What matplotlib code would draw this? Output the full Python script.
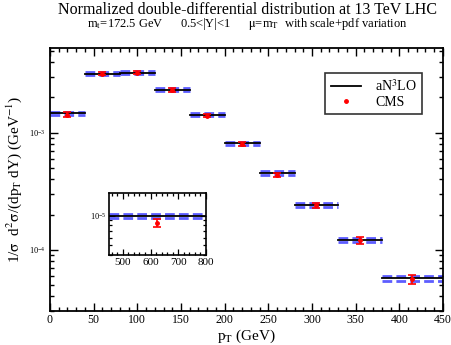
import matplotlib
matplotlib.use("Agg")
import matplotlib.pyplot as plt
from matplotlib.lines import Line2D
from matplotlib.ticker import LogLocator, MultipleLocator, NullFormatter, LogFormatterMathtext
import numpy as np

plt.rcParams['font.family'] = ['Liberation Serif', 'DejaVu Serif']
plt.rcParams['mathtext.fontset'] = 'stix'

# bin edges (GeV)
bin_lo = [0, 40, 80, 120, 160, 200, 240, 280, 330, 380]
bin_hi = [40, 80, 120, 160, 200, 240, 280, 330, 380, 450]
# aN3LO central values
theory = [1.46e-3, 3.19e-3, 3.25e-3, 2.33e-3, 1.42e-3, 8.1e-4, 4.52e-4, 2.42e-4, 1.22e-4, 5.73e-5]
# relative scale+pdf band half-width
band = [0.03, 0.03, 0.03, 0.03, 0.03, 0.03, 0.035, 0.035, 0.04, 0.05]
# CMS data
cms_x = [20, 60, 100, 140, 180, 220, 260, 305, 355, 415]
cms_y = [1.43e-3, 3.19e-3, 3.27e-3, 2.30e-3, 1.40e-3, 8.05e-4, 4.38e-4, 2.39e-4, 1.21e-4, 5.6e-5]
cms_err = [0.05, 0.03, 0.03, 0.04, 0.03, 0.04, 0.04, 0.05, 0.07, 0.095]

# inset (high pT bin)
in_lo, in_hi = 450, 800
in_theory = 1.0e-5
in_band = 0.05
in_cms_x = 625
in_cms_y = 8.5e-6
in_cms_err = 0.085

blue = '#4040ff'

fig = plt.figure(figsize=(4.52, 3.45), dpi=100)
ax = fig.add_axes([0.1106, 0.0986, 0.8694, 0.7624])

def draw_bins(a, lo, hi, th, bd):
    for l, h, t, b in zip(lo, hi, th, bd):
        a.plot([l, h], [t * (1 + b), t * (1 + b)], color=blue, lw=2.0, ls=(0, (3.5, 1.5)), alpha=0.85, zorder=2)
        a.plot([l, h], [t * (1 - b), t * (1 - b)], color=blue, lw=2.0, ls=(0, (3.5, 1.5)), alpha=0.85, zorder=2)
        a.plot([l, h], [t, t], color='black', lw=1.3, zorder=3)

draw_bins(ax, bin_lo, bin_hi, theory, band)
cy = np.array(cms_y)
ce = cy * np.array(cms_err)
ax.errorbar(cms_x, cy, yerr=ce, fmt='o', ms=2.5, color='red', ecolor='red',
            elinewidth=1.2, capsize=3, capthick=1.2, zorder=4)

ax.set_yscale('log')
ax.set_xlim(0, 450)
ax.set_ylim(3.0e-5, 5.3e-3)
ax.xaxis.set_major_locator(MultipleLocator(50))
ax.xaxis.set_minor_locator(MultipleLocator(10))
ax.yaxis.set_major_locator(LogLocator(base=10))
ax.yaxis.set_minor_locator(LogLocator(base=10, subs=np.arange(2, 10)))
ax.yaxis.set_minor_formatter(NullFormatter())
ax.yaxis.set_major_formatter(LogFormatterMathtext())
ax.tick_params(which='both', direction='in', top=True, right=True, width=1.0)
ax.tick_params(which='major', length=6)
ax.tick_params(which='minor', length=3)
ax.tick_params(axis='x', labelsize=8.5, pad=2.5)
ax.tick_params(axis='y', labelsize=6, pad=3)
for s in ax.spines.values():
    s.set_linewidth(1.3)

ax.set_xlabel(r'p$_{\mathrm{T}}$ (GeV)', fontsize=11)
ax.xaxis.set_label_coords(0.5, -0.062)
ax.set_ylabel(r'1/$\mathrm{\sigma}$  d$^2\mathrm{\sigma}$/(dp$_{\mathrm{T}}$ dY) (GeV$^{-1}$)', fontsize=11, labelpad=4)

fig.text(0.548, 0.972, 'Normalized double-differential distribution at 13 TeV LHC',
         ha='center', va='center', fontsize=11.5)
fig.text(0.548, 0.930,
         r'm$_{\mathrm{t}}$=172.5 GeV      0.5<|Y|<1      $\mathrm{\mu}$=m$_{\mathrm{T}}$  with scale+pdf variation',
         ha='center', va='center', fontsize=9)

handles = [Line2D([], [], color='black', lw=1.3),
           Line2D([], [], color='red', marker='o', ms=2.5, ls='none')]
leg = ax.legend(handles, [r'aN$^3$LO', 'CMS'], loc='upper left',
                bbox_to_anchor=((325 - 50) / 393, 1 - (73 - 48) / 263),
                fontsize=10, frameon=True, fancybox=False, borderaxespad=0,
                handlelength=2.2, handletextpad=1.0, labelspacing=0.1,
                borderpad=0.4)
leg.get_frame().set_edgecolor('black')
leg.get_frame().set_linewidth(1.2)

# inset
ins = fig.add_axes([109 / 452, (345 - 255) / 345, 97 / 452, 62 / 345])
draw_bins(ins, [in_lo], [in_hi], [in_theory], [in_band])
ins.errorbar([in_cms_x], [in_cms_y], yerr=[in_cms_y * in_cms_err], fmt='o', ms=2.5,
             color='red', ecolor='red', elinewidth=1.2, capsize=3, capthick=1.2, zorder=4)
ins.set_yscale('log')
ins.set_xlim(450, 800)
ins.set_ylim(4.0e-6, 1.7e-5)
ins.xaxis.set_major_locator(MultipleLocator(100))
ins.xaxis.set_minor_locator(MultipleLocator(20))
ins.yaxis.set_major_locator(LogLocator(base=10))
ins.yaxis.set_minor_locator(LogLocator(base=10, subs=np.arange(2, 10)))
ins.yaxis.set_minor_formatter(NullFormatter())
ins.yaxis.set_major_formatter(LogFormatterMathtext())
ins.tick_params(which='both', direction='in', top=True, right=True, width=0.9)
ins.tick_params(which='major', length=4)
ins.tick_params(which='minor', length=2.5)
ins.tick_params(axis='x', labelsize=8, pad=2)
ins.tick_params(axis='y', labelsize=6, pad=2)
for s in ins.spines.values():
    s.set_linewidth(1.2)

fig.savefig('out.png', dpi=100)
